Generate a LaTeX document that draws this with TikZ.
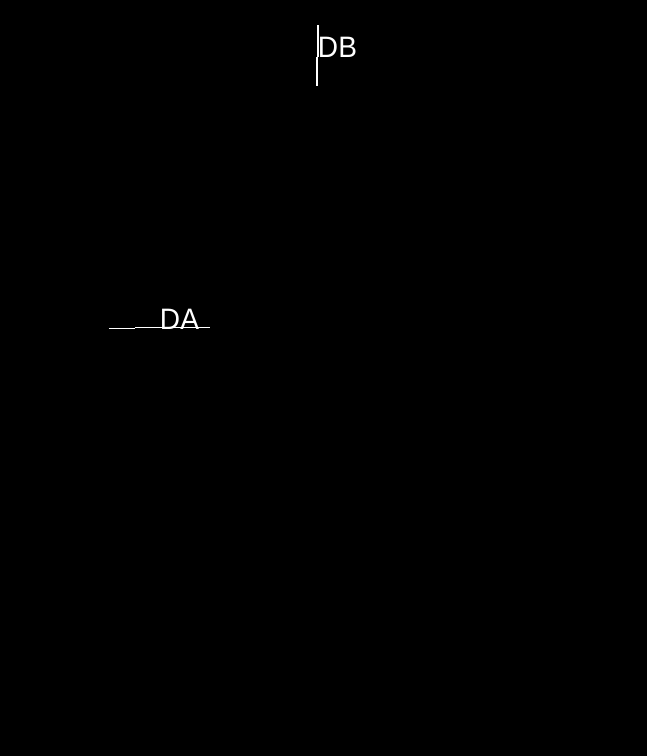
\documentclass[tikz,border=0pt]{standalone}
\usepackage{fontspec}
\setmainfont{Liberation Sans}
\usetikzlibrary{positioning}

\begin{document}
\begin{tikzpicture}[x=0.01cm,y=-0.01cm,line width=0.3pt,white,
        tag/.style={inner sep=0pt,anchor=base west,font=\fontsize{8.4}{10}\selectfont}]
        \fill[black] (0,0) rectangle (647,756);
        \useasboundingbox (0,0) rectangle (647,756);

        % labels
        \node[tag,xscale=0.95] (db) at (317.5,57) {DB};
        \node[tag,xscale=0.95] (da) at (159.5,329) {DA};

        % leader lines
        \coordinate (db top) at (318,25);
        \coordinate (db mid) at (318,57);
        \coordinate (db bot) at (317,86);
        \coordinate (da left) at (109,328.6);
        \coordinate (da mid) at (135,328.6);
        \coordinate (da right) at (210,327.4);

        \draw (db top) -- (db mid);
        \draw (db mid -| db bot) -- (db bot);
        \draw (da left) -- (da mid);
        \draw (da mid |- da right) -- (da right);
    \end{tikzpicture}
\end{document}
